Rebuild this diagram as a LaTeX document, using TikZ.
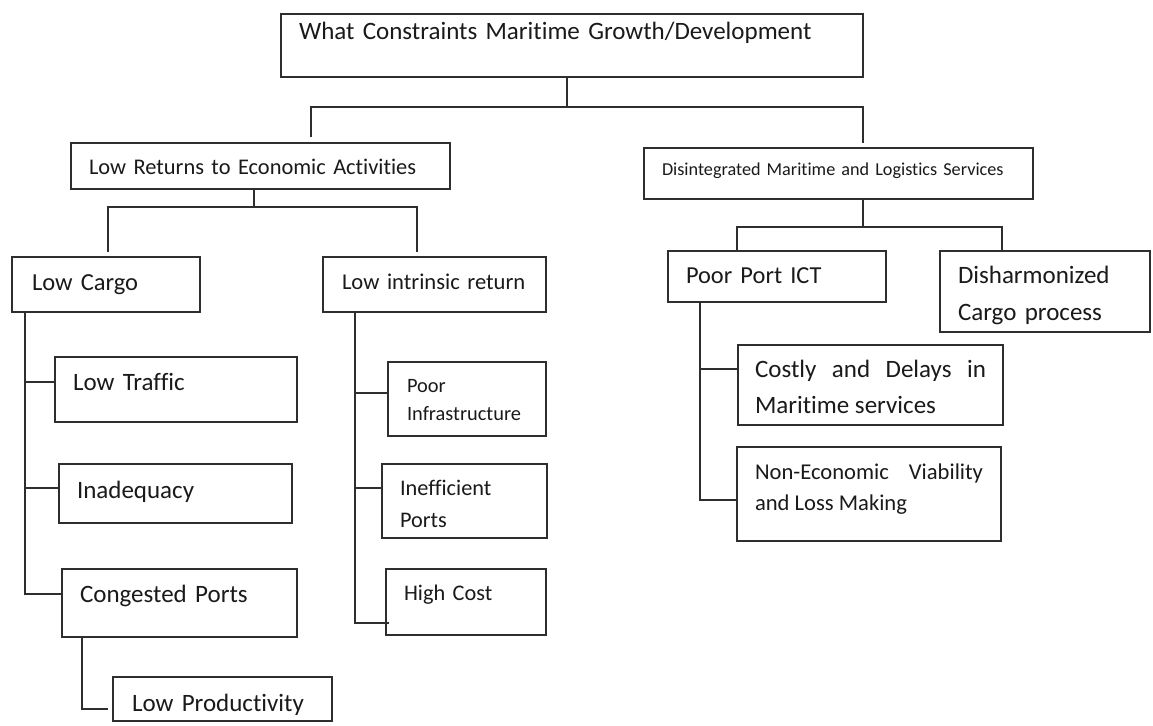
\documentclass[tikz,border=0pt]{standalone}
\usepackage{fontspec}
\setmainfont{Carlito}[Ligatures={NoCommon}]
\hyphenpenalty=10000
\exhyphenpenalty=10000
\definecolor{linec}{HTML}{2E2E2E}
\definecolor{txtc}{HTML}{1A1A1A}
\tikzset{
  box/.style={draw=linec, line width=1.5pt, anchor=north west, outer sep=0pt,
    inner ysep=0pt, align=left, text=txtc},
  conn/.style={draw=linec, line width=1.7pt},
}
\newcommand\mkbox[9]{%
  \pgfmathsetmacro\bxs{#6-#2}%
  \pgfmathsetmacro\btw{#4-#2-2*(#6-#2)}%
  \pgfmathsetmacro\bth{#7-#3}%
  \pgfmathsetmacro\btd{#5-#7}%
  \node[box,#8,inner xsep=\bxs pt,text width=\btw pt,text height=\bth pt,text depth=\btd pt] (#1) at (#2,#3) {#9};}
\begin{document}
\begin{tikzpicture}[x=1pt,y=-1pt]
\fill[white] (0,0) rectangle (1153,725);
\useasboundingbox (0,0) rectangle (1153,725);

\mkbox{top}{281}{14}{863}{77}{299}{40}{font=\fontsize{25}{37}\selectfont}{What Constraints Maritime Growth/Development}
\mkbox{lowret}{71}{143}{450}{189}{89}{174}{font=\fontsize{22.4}{32}\selectfont}{Low Returns to Economic Activities}
\mkbox{disint}{644}{148}{1033}{199}{662}{175}{font=\fontsize{18.2}{26}\selectfont}{Disintegrated Maritime and Logistics Services}
\mkbox{lowcargo}{12}{257}{200}{312}{32}{290}{font=\fontsize{24.5}{36}\selectfont}{Low Cargo}
\mkbox{lowintr}{323}{257}{546}{312}{342}{289}{font=\fontsize{22.6}{32}\selectfont}{Low intrinsic return}
\mkbox{poorport}{668}{251}{886}{302}{686}{283}{font=\fontsize{24.4}{36}\selectfont}{Poor Port ICT}
\mkbox{disharm}{940}{251}{1150}{332}{958}{283}{font=\fontsize{25}{37}\selectfont}{Disharmonized\\Cargo process}
\mkbox{lowtraffic}{55}{357}{297}{422}{73}{390}{font=\fontsize{25}{37}\selectfont}{Low Traffic}
\mkbox{inadequacy}{59}{464}{292}{523}{77}{498}{font=\fontsize{25}{37}\selectfont}{Inadequacy}
\mkbox{congested}{62}{569}{297}{637}{80}{602}{font=\fontsize{25}{37}\selectfont}{Congested Ports}
\mkbox{lowprod}{113}{677}{332}{721}{132}{711}{font=\fontsize{25}{37}\selectfont}{Low Productivity}
\mkbox{poorinfra}{388}{362}{546}{436}{407}{392}{font=\fontsize{20.4}{28}\selectfont}{Poor\\Infrastructure}
\mkbox{ineff}{382}{464}{547}{538}{400}{495}{font=\fontsize{22.3}{32}\selectfont}{Inefficient\\Ports}
\mkbox{highcost}{386}{569}{546}{635}{404}{600}{font=\fontsize{22.3}{32}\selectfont}{High Cost}
\mkbox{costly}{738}{345}{1003}{425}{755}{377}{font=\fontsize{25}{36}\selectfont,align=justify}{Costly and Delays in Maritime services}
\mkbox{nonecon}{737}{447}{1001}{541}{755}{479}{font=\fontsize{22.6}{31}\selectfont,align=justify}{Non-Economic Viability and Loss Making}

% top level bus
\draw[conn] ([xshift=-5pt]top.south) -- ++(0,30);
\draw[conn] ([xshift=240pt,yshift=6pt]lowret.north west) |- ([xshift=-5pt,yshift=-30pt]top.south) -| ([xshift=219pt,yshift=5pt]disint.north west);

% low returns bus
\draw[conn] ([xshift=-6.5pt]lowret.south) -- ++(0,18);
\draw[conn] ([xshift=96pt,yshift=5pt]lowcargo.north west) |- ([xshift=-6.5pt,yshift=-18pt]lowret.south) -| ([xshift=94pt,yshift=5pt]lowintr.north west);

% disintegrated bus
\draw[conn] ([xshift=24.5pt]disint.south) -- ++(0,28);
\draw[conn] ([xshift=69pt,yshift=1pt]poorport.north west) |- ([xshift=24.5pt,yshift=-28pt]disint.south) -| ([xshift=62pt,yshift=1pt]disharm.north west);

% low cargo trunk
\coordinate (lcT) at ([xshift=13pt]lowcargo.south west);
\coordinate (ltB) at ([yshift=7.5pt]lowtraffic.west);
\coordinate (inB) at ([yshift=5.5pt]inadequacy.west);
\coordinate (cgB) at ([yshift=9pt]congested.west);
\draw[conn] (lcT) |- (cgB);
\draw[conn] (lcT |- ltB) -- (ltB);
\draw[conn] (lcT |- inB) -- (inB);

% congested -> low productivity
\draw[conn] ([xshift=20pt]congested.south west) |- ([xshift=-5pt,yshift=-10pt]lowprod.west);

% low intrinsic trunk
\coordinate (liT) at ([xshift=32pt]lowintr.south west);
\coordinate (piB) at ([yshift=6pt]poorinfra.west);
\coordinate (ieB) at ([yshift=13pt]ineff.west);
\draw[conn] (liT) |- ([xshift=3pt,yshift=-21pt]highcost.west);
\draw[conn] (liT |- piB) -- (piB);
\draw[conn] (liT |- ieB) -- (ieB);

% poor port trunk
\coordinate (ppT) at ([xshift=32pt]poorport.south west);
\coordinate (coB) at ([yshift=16pt]costly.west);
\draw[conn] (ppT) |- ([yshift=-6pt]nonecon.west);
\draw[conn] (ppT |- coB) -- (coB);
\end{tikzpicture}
\end{document}
